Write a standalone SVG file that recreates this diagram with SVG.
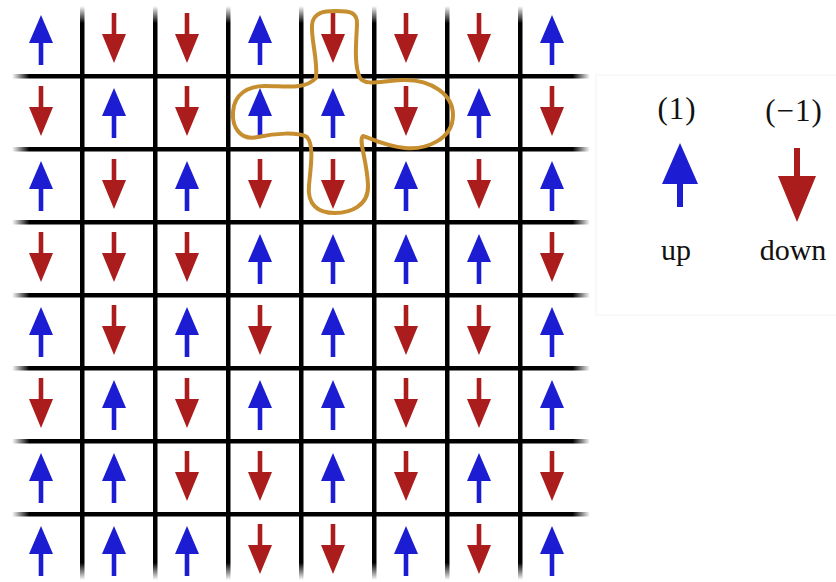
<svg xmlns="http://www.w3.org/2000/svg" xmlns:xlink="http://www.w3.org/1999/xlink" width="836" height="582" viewBox="0 0 836 582">
  <style>
    .spin-up { fill: #1b1fd2; }
    .spin-down { fill: #ab1d1f; }
    .label { font-family: "Liberation Serif", "Times New Roman", serif; font-size: 30px; fill: #111; text-anchor: middle; }
    .value { font-size: 31px; letter-spacing: 1px; }
    .loop { fill: none; stroke: #c68e2e; stroke-width: 4; stroke-linejoin: round; }
  </style>
  <defs>
    <filter id="soft" x="-5%" y="-5%" width="110%" height="110%">
      <feGaussianBlur stdDeviation="0.6"/>
    </filter>
    <linearGradient id="hfade" x1="0" y1="0" x2="1" y2="0">
      <stop offset="0" stop-color="#000" stop-opacity="0"/>
      <stop offset="0.03" stop-color="#000" stop-opacity="1"/>
      <stop offset="0.97" stop-color="#000" stop-opacity="1"/>
      <stop offset="1" stop-color="#000" stop-opacity="0"/>
    </linearGradient>
    <linearGradient id="vfade" x1="0" y1="0" x2="0" y2="1">
      <stop offset="0" stop-color="#000" stop-opacity="0"/>
      <stop offset="0.03" stop-color="#000" stop-opacity="1"/>
      <stop offset="0.97" stop-color="#000" stop-opacity="1"/>
      <stop offset="1" stop-color="#000" stop-opacity="0"/>
    </linearGradient>
    <!-- spin arrows, centred on the cell centre -->
    <path id="up" class="spin-up" d="M0,-25 L12,3 L2.3,3 L2.3,25 L-2.3,25 L-2.3,3 L-12,3 Z"/>
    <path id="down" class="spin-down" d="M0,23 L12,-6 L2.3,-6 L2.3,-27 L-2.3,-27 L-2.3,-6 L-12,-6 Z"/>
  </defs>

  <rect width="836" height="582" fill="#fff"/>

  <!-- legend frame -->
  <rect x="596" y="75" width="250" height="240" fill="none" stroke="#f7f7f7" stroke-width="1.5"/>

  <!-- lattice lines -->
  <g id="lattice" filter="url(#soft)">
    <rect x="12" y="74" width="578" height="4.5" fill="url(#hfade)"/>
    <rect x="12" y="147" width="578" height="4.5" fill="url(#hfade)"/>
    <rect x="12" y="220" width="578" height="4.5" fill="url(#hfade)"/>
    <rect x="12" y="293" width="578" height="4.5" fill="url(#hfade)"/>
    <rect x="12" y="366" width="578" height="4.5" fill="url(#hfade)"/>
    <rect x="12" y="439" width="578" height="4.5" fill="url(#hfade)"/>
    <rect x="12" y="512" width="578" height="4.5" fill="url(#hfade)"/>
    <rect x="80" y="6" width="4.5" height="574" fill="url(#vfade)"/>
    <rect x="153" y="6" width="4.5" height="574" fill="url(#vfade)"/>
    <rect x="226" y="6" width="4.5" height="574" fill="url(#vfade)"/>
    <rect x="299" y="6" width="4.5" height="574" fill="url(#vfade)"/>
    <rect x="372" y="6" width="4.5" height="574" fill="url(#vfade)"/>
    <rect x="445" y="6" width="4.5" height="574" fill="url(#vfade)"/>
    <rect x="518" y="6" width="4.5" height="574" fill="url(#vfade)"/>
  </g>

  <!-- spins: columns at x = 41 + 73*i, rows at y = 40 + 73*j -->
  <g id="spins" filter="url(#soft)">
    <!-- row 0: U D D U D D D U -->
    <use href="#up" x="41" y="40"/><use href="#down" x="114" y="40"/><use href="#down" x="187" y="40"/><use href="#up" x="260" y="40"/>
    <use href="#down" x="333" y="40"/><use href="#down" x="406" y="40"/><use href="#down" x="479" y="40"/><use href="#up" x="552" y="40"/>
    <!-- row 1: D U D U U D U D -->
    <use href="#down" x="41" y="113"/><use href="#up" x="114" y="113"/><use href="#down" x="187" y="113"/><use href="#up" x="260" y="113"/>
    <use href="#up" x="333" y="113"/><use href="#down" x="406" y="113"/><use href="#up" x="479" y="113"/><use href="#down" x="552" y="113"/>
    <!-- row 2: U D U D D U D U -->
    <use href="#up" x="41" y="186"/><use href="#down" x="114" y="186"/><use href="#up" x="187" y="186"/><use href="#down" x="260" y="186"/>
    <use href="#down" x="333" y="186"/><use href="#up" x="406" y="186"/><use href="#down" x="479" y="186"/><use href="#up" x="552" y="186"/>
    <!-- row 3: D D D U U U U D -->
    <use href="#down" x="41" y="259"/><use href="#down" x="114" y="259"/><use href="#down" x="187" y="259"/><use href="#up" x="260" y="259"/>
    <use href="#up" x="333" y="259"/><use href="#up" x="406" y="259"/><use href="#up" x="479" y="259"/><use href="#down" x="552" y="259"/>
    <!-- row 4: U D U D U D D U -->
    <use href="#up" x="41" y="332"/><use href="#down" x="114" y="332"/><use href="#up" x="187" y="332"/><use href="#down" x="260" y="332"/>
    <use href="#up" x="333" y="332"/><use href="#down" x="406" y="332"/><use href="#down" x="479" y="332"/><use href="#up" x="552" y="332"/>
    <!-- row 5: D U D U U D D U -->
    <use href="#down" x="41" y="405"/><use href="#up" x="114" y="405"/><use href="#down" x="187" y="405"/><use href="#up" x="260" y="405"/>
    <use href="#up" x="333" y="405"/><use href="#down" x="406" y="405"/><use href="#down" x="479" y="405"/><use href="#up" x="552" y="405"/>
    <!-- row 6: U U D D U D U D -->
    <use href="#up" x="41" y="478"/><use href="#up" x="114" y="478"/><use href="#down" x="187" y="478"/><use href="#down" x="260" y="478"/>
    <use href="#up" x="333" y="478"/><use href="#down" x="406" y="478"/><use href="#up" x="479" y="478"/><use href="#down" x="552" y="478"/>
    <!-- row 7: U U U D D U D U -->
    <use href="#up" x="41" y="551"/><use href="#up" x="114" y="551"/><use href="#up" x="187" y="551"/><use href="#down" x="260" y="551"/>
    <use href="#down" x="333" y="551"/><use href="#up" x="406" y="551"/><use href="#down" x="479" y="551"/><use href="#up" x="552" y="551"/>
  </g>

  <!-- nearest-neighbour outline around the site at row 1, column 4 -->
  <g id="neighbourhood" filter="url(#soft)">
    <path class="loop" d="M316,78 C318,60 311,40 312,25 C313,12 325,11 335,11 C350,11 358,12 357,25 C356,45 354,65 360,78 C366,86 380,81 402,80 C432,79 453,95 453,115 C453,140 425,150 405,148 C385,146 370,138 363,136 C358,140 367,160 368,185 C369,206 350,213 335,213 C318,213 307,205 309,185 C311,165 314,145 307,137 C298,132 275,133 258,137 C240,141 232,127 233,112 C234,94 248,86 265,86 C285,86 305,90 316,78 Z"/>
  </g>

  <!-- legend -->
  <g id="legend-up">
    <text class="label value" x="677" y="119">(1)</text>
    <path class="spin-up" filter="url(#soft)" d="M680,143 L698,184 L683,184 L683,207 L677,207 L677,184 L662,184 Z"/>
    <text class="label" x="676" y="260">up</text>
  </g>
  <g id="legend-down">
    <text class="label value" x="794" y="121">(−1)</text>
    <path class="spin-down" filter="url(#soft)" d="M797,222 L778,176 L794,176 L794,148 L800,148 L800,176 L816,176 Z"/>
    <text class="label" x="793" y="260">down</text>
  </g>
</svg>
